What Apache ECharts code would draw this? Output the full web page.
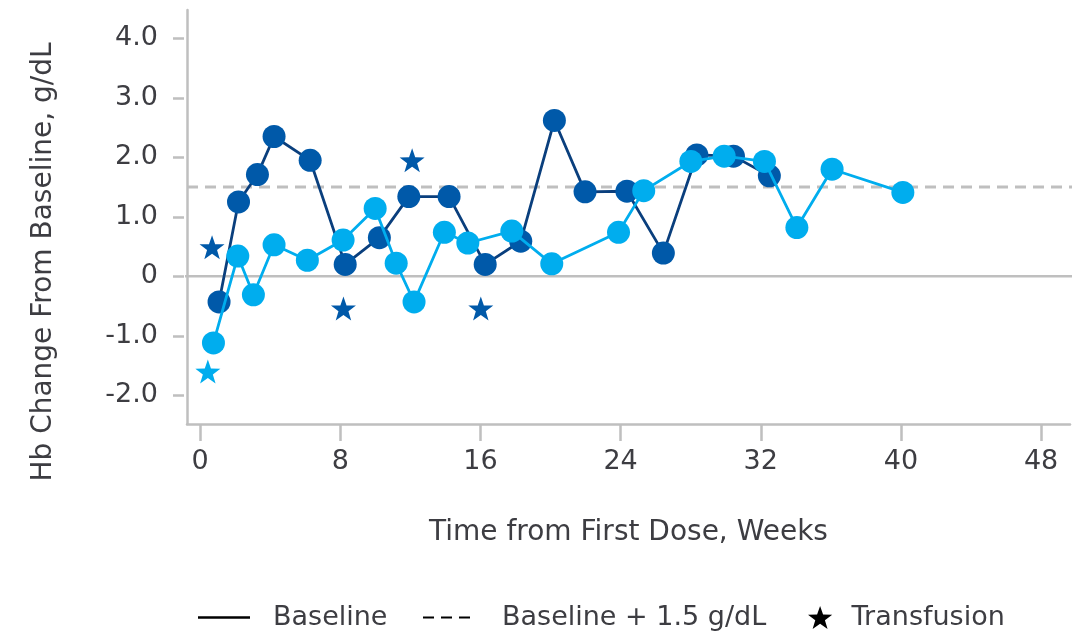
<!DOCTYPE html>
<html>
<head>
<meta charset="utf-8">
<script src="https://cdn.jsdelivr.net/npm/echarts@6/dist/echarts.min.js"></script>
<style>
html,body{margin:0;padding:0;background:#fff;}
#chart{width:1084px;height:636px;}
</style>
</head>
<body>
<div id="chart"></div>
<script>
// ---- data ----
const weeksDark = [1.08, 2.19, 3.27, 4.22, 6.28, 8.28, 10.23, 11.91, 14.21, 16.27, 18.30, 20.22, 21.97, 24.36, 26.44, 28.35, 30.44, 32.49];
const hbDark    = [-0.43, 1.25, 1.71, 2.35, 1.95, 0.20, 0.65, 1.34, 1.34, 0.20, 0.59, 2.62, 1.42, 1.43, 0.39, 2.04, 2.02, 1.69];
const weeksLight = [0.76, 2.15, 3.04, 4.22, 6.12, 8.16, 9.99, 11.19, 12.21, 13.94, 15.28, 17.79, 20.07, 23.88, 25.32, 28.01, 29.91, 32.21, 34.06, 36.07, 40.11];
const hbLight    = [-1.12, 0.34, -0.31, 0.53, 0.27, 0.61, 1.14, 0.22, -0.43, 0.74, 0.56, 0.76, 0.21, 0.74, 1.44, 1.93, 2.02, 1.93, 0.82, 1.80, 1.41];
const transfWeeksDark = [0.68, 8.18, 12.10, 16.02];
const transfHbDark    = [0.49, -0.54, 1.95, -0.54];
const transfWeeksLight = [0.44];
const transfHbLight    = [-1.60];
const baselineValue = 0;
const thresholdValue = 1.5;
const baselineSpan = [-1.5, 50.4];
const thresholdSpan = [-0.75, 49.95];
const xTicks = [0, 8, 16, 24, 32, 40, 48];
const yTicks = [-2, -1, 0, 1, 2, 3, 4];
const legendNames = ['Baseline', 'Baseline + 1.5 g/dL', 'Transfusion'];
const xTitle = 'Time from First Dose, Weeks';
const yTitle = 'Hb Change From Baseline, g/dL';

// ---- helpers ----
function pairs(xs, ys) { return xs.map((x, i) => [x, ys[i]]); }
function starPath() {
  let d = '';
  for (let i = 0; i < 10; i++) {
    const a = (-90 + i * 36) * Math.PI / 180;
    const r = i % 2 ? 0.40 : 1;
    d += (i ? 'L' : 'M') + (r * Math.cos(a)).toFixed(4) + ',' + (r * Math.sin(a)).toFixed(4);
  }
  return 'path://' + d + 'Z';
}
const STAR = starPath();
const DASH_ICON = 'path://M0,0h11v2h-11z M18,0h11v2h-11z M36,0h11v2h-11z';

const FONT = 'DejaVu Sans';
const TXT = '#3d3d42';
const GREY = '#bfbfbf';
const DARK_MARK = '#0059a9';
const DARK_LINE = '#0a3f7d';
const LIGHT = '#00adee';

const X_MIN = -0.75, X_MAX = 49.65;
const Y_MIN = -2.482, Y_MAX = 4.476;

const chart = echarts.init(document.getElementById('chart'), null, {renderer: 'canvas'});
const legendText = {color: TXT, fontFamily: FONT, fontSize: 27};

chart.setOption({
  animation: false,
  backgroundColor: '#fff',
  grid: {left: 187, top: 10, width: 883, height: 414, containLabel: false},
  xAxis: {
    type: 'value', min: X_MIN, max: X_MAX,
    axisLine: {show: true, onZero: false, lineStyle: {color: GREY, width: 2.5}},
    axisTick: {show: true, customValues: xTicks, length: 17, lineStyle: {color: GREY, width: 2.5}},
    axisLabel: {show: true, customValues: xTicks, margin: 24, color: TXT, fontFamily: FONT, fontSize: 27},
    splitLine: {show: false},
    name: xTitle, nameLocation: 'middle', nameGap: 95,
    nameTextStyle: {color: TXT, fontFamily: FONT, fontSize: 28}
  },
  yAxis: [{
    type: 'value', min: Y_MIN, max: Y_MAX,
    axisLine: {show: true, onZero: false, lineStyle: {color: GREY, width: 2.5}},
    axisTick: {show: false}, axisLabel: {show: false}, splitLine: {show: false}
  }, {
    type: 'value', min: Y_MIN, max: Y_MAX, position: 'left', offset: 3,
    axisLine: {show: false, onZero: false},
    axisTick: {show: true, customValues: yTicks, length: 11, lineStyle: {color: GREY, width: 2.5}},
    axisLabel: {show: true, customValues: yTicks, margin: 26, color: TXT, fontFamily: FONT, fontSize: 27,
      formatter: v => (v === 0 ? '0' : v.toFixed(1))},
    splitLine: {show: false}
  }],
  legend: [
    {data: [{name: legendNames[0], icon: 'rect', itemStyle: {color: '#000'}}],
      left: 198, top: 604, padding: 0, itemWidth: 52, itemHeight: 2.5, selectedMode: false,
      textStyle: Object.assign({padding: [0, 0, 0, 18]}, legendText)},
    {data: [{name: legendNames[1], icon: DASH_ICON, itemStyle: {color: '#000'}}],
      left: 423, top: 604, padding: 0, itemWidth: 47, itemHeight: 2.5, selectedMode: false,
      textStyle: Object.assign({padding: [0, 0, 0, 27]}, legendText)},
    {data: [{name: legendNames[2], icon: STAR, itemStyle: {color: '#000', opacity: 1}}],
      left: 808, top: 604, padding: 0, itemWidth: 25, itemHeight: 23, selectedMode: false,
      textStyle: Object.assign({padding: [0, 0, 0, 14]}, legendText)}
  ],
  graphic: [{
    type: 'text', x: 44, y: 262, rotation: Math.PI / 2,
    style: {text: yTitle, fill: TXT, font: '28px "' + FONT + '"', align: 'center', verticalAlign: 'middle'}
  }],
  series: [
    {type: 'line', name: '_zero', data: baselineSpan.map(x => [x, baselineValue]), clip: false, silent: true,
      symbol: 'none', lineStyle: {color: GREY, width: 2.5}, z: 1},
    {type: 'line', name: '_thresh', data: thresholdSpan.map(x => [x, thresholdValue]), clip: false, silent: true,
      symbol: 'none', lineStyle: {color: GREY, width: 3, type: [11, 7]}, z: 1},
    {type: 'line', name: 'darkPatient', data: pairs(weeksDark, hbDark), symbol: 'circle', symbolSize: 23,
      showSymbol: true, itemStyle: {color: DARK_MARK, opacity: 1}, lineStyle: {color: DARK_LINE, width: 2.8}, z: 3},
    {type: 'line', name: 'lightPatient', data: pairs(weeksLight, hbLight), symbol: 'circle', symbolSize: 23,
      showSymbol: true, itemStyle: {color: LIGHT, opacity: 1}, lineStyle: {color: LIGHT, width: 2.8}, z: 4},
    {type: 'scatter', name: 'darkTransf', data: pairs(transfWeeksDark, transfHbDark), symbol: STAR,
      symbolSize: [25, 24], itemStyle: {color: DARK_MARK, opacity: 1}, z: 5},
    {type: 'scatter', name: 'lightTransf', data: pairs(transfWeeksLight, transfHbLight), symbol: STAR,
      symbolSize: [25, 24], itemStyle: {color: LIGHT, opacity: 1}, z: 5},
    {type: 'scatter', name: legendNames[0], data: [], itemStyle: {color: '#000', opacity: 1}},
    {type: 'scatter', name: legendNames[1], data: [], itemStyle: {color: '#000', opacity: 1}},
    {type: 'scatter', name: legendNames[2], data: [], itemStyle: {color: '#000', opacity: 1}}
  ]
});
</script>
</body>
</html>
